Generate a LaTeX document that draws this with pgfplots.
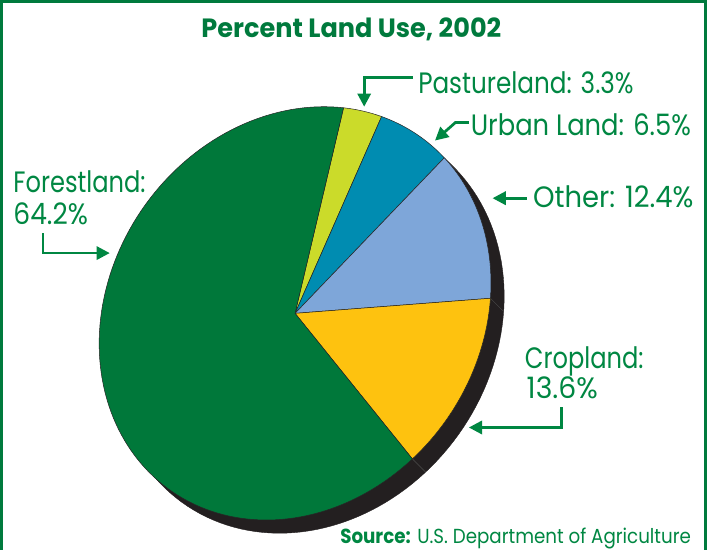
\documentclass[border=0pt]{standalone}
\usepackage{pgfplots}
\pgfplotsset{compat=1.18}
\usepackage{pgfplotstable}
\usepackage{graphicx}
\usepackage{fontspec}
\setmainfont{Poppins}
\usetikzlibrary{arrows.meta}

\definecolor{forest}{RGB}{0,120,58}
\definecolor{pasture}{RGB}{203,219,42}
\definecolor{urban}{RGB}{0,140,177}
\definecolor{other}{RGB}{126,166,217}
\definecolor{crop}{RGB}{254,194,15}
\definecolor{shadow}{RGB}{35,31,32}
\definecolor{textgreen}{RGB}{0,135,66}
\definecolor{titlegreen}{RGB}{0,122,61}
\definecolor{framegreen}{RGB}{0,122,61}

\pgfplotstableread{
name value fillc
Pastureland 3.3 pasture
Urban 6.5 urban
Other 12.4 other
Cropland 13.6 crop
Forestland 64.2 forest
}\landuse

% ellipse of the (tilted) pie, in picture pixels
\def\cx{299}\def\cy{232}\def\ea{213}\def\eb{182}\def\rot{55}
\def\tstart{25}
\def\sh{13}

\newcommand\lab[4]{\node[anchor=base west, inner sep=0pt, text=textgreen] at (axis cs:#1,#2) {\resizebox{#3pt}{\height}{\fontsize{29}{29}\selectfont #4}};}

\begin{document}
\begin{tikzpicture}
\begin{axis}[at={(0pt,0pt)}, anchor=south west, x=1pt, y=1pt,
  xmin=0, xmax=707, ymin=0, ymax=548, hide axis]

% shadow / side of the pie
\addplot[fill=shadow, draw=shadow, domain=0:360, samples=160]
  ({\cx+\sh+\ea*cos(x)*cos(\rot)-\eb*sin(x)*sin(\rot)},
   {\cy-\sh+\ea*cos(x)*sin(\rot)+\eb*sin(x)*cos(\rot)}) -- cycle;

% rim lines at the slice boundaries
\xdef\tcur{\tstart}
\pgfplotsinvokeforeach{0,...,4}{%
  \pgfplotstablegetelem{#1}{value}\of\landuse
  \pgfmathsetmacro\tnext{\tcur-3.6*\pgfplotsretval}
  \pgfmathsetmacro\px{\cx+\ea*cos(\tnext)*cos(\rot)-\eb*sin(\tnext)*sin(\rot)}
  \pgfmathsetmacro\py{\cy+\ea*cos(\tnext)*sin(\rot)+\eb*sin(\tnext)*cos(\rot)}
  \pgfmathsetmacro\qx{\px+\sh}
  \pgfmathsetmacro\qy{\py-\sh}
  \edef\doline{\noexpand\draw[gray!60!black, line width=0.4pt] (axis cs:\px,\py) -- (axis cs:\qx,\qy);}
  \doline
  \xdef\tcur{\tnext}
}

% slices
\xdef\tcur{\tstart}
\pgfplotsinvokeforeach{0,...,4}{%
  \pgfplotstablegetelem{#1}{value}\of\landuse
  \pgfmathsetmacro\tnext{\tcur-3.6*\pgfplotsretval}
  \pgfplotstablegetelem{#1}{fillc}\of\landuse
  \edef\doslice{\noexpand\addplot[draw=black!85, line width=0.5pt, line join=round, fill=\pgfplotsretval, domain=\tnext:\tcur, samples=120]
    ({\cx+\ea*cos(x)*cos(\rot)-\eb*sin(x)*sin(\rot)},{\cy+\ea*cos(x)*sin(\rot)+\eb*sin(x)*cos(\rot)}) -- (axis cs:\cx,\cy) -- cycle;}
  \doslice
  \xdef\tcur{\tnext}
}

% frame
\draw[framegreen, line width=2.6pt] (axis cs:10,-10) -- (axis cs:10,539) -- (axis cs:703,539) -- (axis cs:703,-10);

% title and source
\node[anchor=base west, inner sep=0pt, text=titlegreen] at (axis cs:206.7,503)
  {\resizebox{295pt}{\height}{\fontsize{26}{26}\selectfont\bfseries Percent Land Use, 2002}};
\node[anchor=base west, inner sep=0pt, text=textgreen] at (axis cs:343.3,5.7)
  {\resizebox{345pt}{\height}{\fontsize{20}{20}\selectfont\textbf{Source:} U.S. Department of Agriculture}};

% labels
\lab{420}{448.3}{212}{Pastureland: 3.3\%}
\lab{471.7}{407}{216.6}{Urban Land: 6.5\%}
\lab{533}{336.3}{157.7}{Other: 12.4\%}
\lab{21.7}{351.3}{130}{Forestland:}
\lab{21.7}{319.7}{73.3}{64.2\%}
\lab{525}{178}{116.7}{Cropland:}
\lab{526.7}{148}{70}{13.6\%}

% arrows
\begin{scope}[textgreen, line width=2.7pt, line join=miter,
  -{Triangle[length=13pt, width=13pt]}]
\draw (axis cs:415,464) -- (axis cs:367,464) -- (axis cs:367,435.3);
\draw (axis cs:470,419.7) -- (axis cs:456.7,419.7) -- (axis cs:436.7,402);
\draw (axis cs:527,345.3) -- (axis cs:493.3,345.3);
\draw (axis cs:51,310.7) -- (axis cs:51,291.3) -- (axis cs:116.7,291.3);
\draw (axis cs:561,139.7) -- (axis cs:561,119.7) -- (axis cs:470,119.7);
\end{scope}

\end{axis}
\end{tikzpicture}
\end{document}
